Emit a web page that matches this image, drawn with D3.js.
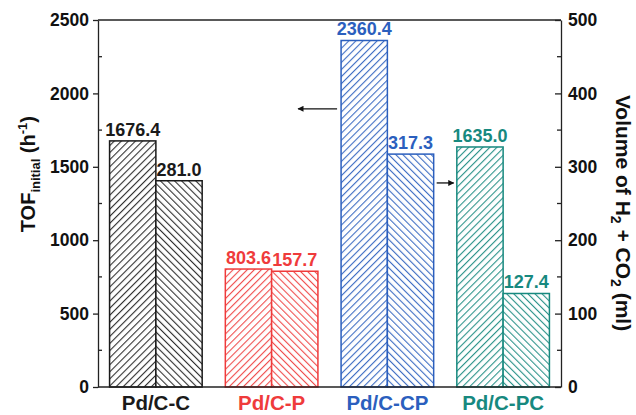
<!DOCTYPE html>
<html>
<head>
<meta charset="utf-8">
<script src="https://cdn.jsdelivr.net/npm/d3@7"></script>
<style>
  html, body { margin: 0; padding: 0; background: #fff; }
  svg { display: block; font-family: "Liberation Sans", Arial, sans-serif; font-weight: bold; }
</style>
</head>
<body>
<svg id="chart" width="636" height="415"></svg>
<script>
// Catalysts and their measured results
const catalysts = ["Pd/C-C", "Pd/C-P", "Pd/C-CP", "Pd/C-PC"];
const tofInitial = [1676.4, 803.6, 2360.4, 1635.0];   // h^-1, left axis
const gasVolume = [281.0, 157.7, 317.3, 127.4];      // ml, right axis
const catalystColors = ["#1a1a1a", "#ef3b3b", "#2b5fbe", "#17897f"];
const tofTicks = [0, 500, 1000, 1500, 2000, 2500];
const volumeTicks = [0, 100, 200, 300, 400, 500];

const svg = d3.select("#chart");
const margin = { left: 98, right: 75, top: 20, bottom: 28 };
const W = 636, H = 415;
const x0 = margin.left, x1 = W - margin.right;
const yTop = margin.top, yBot = H - margin.bottom;

const xGroup = d3.scaleBand().domain(catalysts).range([x0, x1])
  .paddingInner(0.2).paddingOuter(0.1);
const xSub = d3.scaleBand().domain(["tof", "vol"]).range([0, xGroup.bandwidth()]);
const yLeft = d3.scaleLinear().domain([0, 2500]).range([yBot, yTop]);
const yRight = d3.scaleLinear().domain([0, 500]).range([yBot, yTop]);

// Hatch patterns: "/" for TOF bars, "\" for gas volume bars
const defs = svg.append("defs");
catalystColors.forEach((c, i) => {
  [["f", 45], ["b", -45]].forEach(([k, ang]) => {
    const p = defs.append("pattern")
      .attr("id", `hatch-${k}-${i}`)
      .attr("patternUnits", "userSpaceOnUse")
      .attr("width", 5.0).attr("height", 10)
      .attr("patternTransform", `rotate(${ang})`);
    p.append("rect").attr("width", 5.0).attr("height", 10).attr("fill", "#fff");
    p.append("line").attr("x1", 0.6).attr("x2", 0.6).attr("y1", 0).attr("y2", 10)
      .attr("stroke", c).attr("stroke-width", 1.0);
  });
});

// Bars
const rows = catalysts.map((name, i) => ({ name, i, tof: tofInitial[i], vol: gasVolume[i], color: catalystColors[i] }));
const g = svg.append("g");
rows.forEach(d => {
  const gx = xGroup(d.name);
  const bw = xSub.bandwidth();
  // TOF bar (left axis)
  g.append("rect")
    .attr("x", gx + xSub("tof")).attr("width", bw)
    .attr("y", yLeft(d.tof)).attr("height", yBot - yLeft(d.tof))
    .attr("fill", `url(#hatch-f-${d.i})`).attr("stroke", d.color).attr("stroke-width", 1.5);
  // Gas volume bar (right axis)
  g.append("rect")
    .attr("x", gx + xSub("vol")).attr("width", bw)
    .attr("y", yRight(d.vol)).attr("height", yBot - yRight(d.vol))
    .attr("fill", `url(#hatch-b-${d.i})`).attr("stroke", d.color).attr("stroke-width", 1.5);
  // Value labels
  g.append("text")
    .attr("x", gx + xSub("tof") + bw / 2).attr("y", yLeft(d.tof) - 5)
    .attr("text-anchor", "middle").attr("font-size", 18).attr("fill", d.color)
    .text(d.tof.toFixed(1));
  g.append("text")
    .attr("x", gx + xSub("vol") + bw / 2).attr("y", yRight(d.vol) - 5)
    .attr("text-anchor", "middle").attr("font-size", 18).attr("fill", d.color)
    .text(d.vol.toFixed(1));
  // Category label
  svg.append("text")
    .attr("x", gx + xGroup.bandwidth() / 2).attr("y", H - 5)
    .attr("text-anchor", "middle").attr("font-size", 20.5).attr("fill", d.color)
    .text(d.name);
});

// Frame lines (top and bottom)
const axisColor = "#222";
svg.append("line").attr("x1", x0).attr("x2", x1).attr("y1", yTop).attr("y2", yTop)
  .attr("stroke", axisColor).attr("stroke-width", 1.3);
svg.append("line").attr("x1", x0).attr("x2", x1).attr("y1", yBot).attr("y2", yBot)
  .attr("stroke", axisColor).attr("stroke-width", 1.3);

// Left axis
const leftAxis = svg.append("g").attr("transform", `translate(${x0},0)`);
leftAxis.call(d3.axisLeft(yLeft).tickValues(tofTicks).tickFormat(d3.format("d"))
    .tickSize(5).tickSizeOuter(0).tickPadding(4))
  .call(a => a.select(".domain").attr("stroke", axisColor).attr("stroke-width", 1.3))
  .call(a => a.selectAll(".tick line").attr("stroke", axisColor).attr("stroke-width", 1.3))
  .call(a => a.selectAll("text").attr("font-size", 17.5).attr("font-family", "Liberation Sans, Arial, sans-serif")
    .attr("font-weight", "bold").attr("fill", "#111"));
leftAxis.selectAll(".minor").data(d3.range(250, 2500, 500)).enter().append("line")
  .attr("x1", 0).attr("x2", 4).attr("y1", d => yLeft(d)).attr("y2", d => yLeft(d))
  .attr("stroke", axisColor).attr("stroke-width", 1.3);

// Right axis (ticks point inward)
const rightAxis = svg.append("g").attr("transform", `translate(${x1},0)`);
rightAxis.call(d3.axisRight(yRight).tickValues(volumeTicks).tickFormat(d3.format("d"))
    .tickSize(0).tickSizeOuter(0).tickPadding(7))
  .call(a => a.select(".domain").attr("stroke", axisColor).attr("stroke-width", 1.3))
  .call(a => a.selectAll("text").attr("font-size", 17.5).attr("font-family", "Liberation Sans, Arial, sans-serif")
    .attr("font-weight", "bold").attr("fill", "#111"));
rightAxis.selectAll(".tick").append("line")
  .attr("x1", 0).attr("x2", -6).attr("stroke", axisColor).attr("stroke-width", 1.3);
rightAxis.selectAll(".minor").data(d3.range(50, 500, 100)).enter().append("line")
  .attr("x1", 0).attr("x2", -4).attr("y1", d => yRight(d)).attr("y2", d => yRight(d))
  .attr("stroke", axisColor).attr("stroke-width", 1.3);

// Axis titles
const leftTitle = svg.append("text")
  .attr("transform", `translate(35,${yLeft(1450)}) rotate(-90)`)
  .attr("text-anchor", "middle").attr("font-size", 20).attr("fill", "#111");
leftTitle.append("tspan").text("TOF");
leftTitle.append("tspan").attr("font-size", 13).attr("dy", 5).text("initial");
leftTitle.append("tspan").attr("dy", -5).text(" (h");
leftTitle.append("tspan").attr("font-size", 13).attr("dy", -8).text("-1");
leftTitle.append("tspan").attr("dy", 8).text(")");

const rightTitle = svg.append("text")
  .attr("transform", `translate(616,${yRight(237)}) rotate(90)`)
  .attr("text-anchor", "middle").attr("font-size", 21).attr("fill", "#111");
rightTitle.append("tspan").text("Volume of H");
rightTitle.append("tspan").attr("font-size", 14).attr("dy", 5).text("2");
rightTitle.append("tspan").attr("dy", -5).text(" + CO");
rightTitle.append("tspan").attr("font-size", 14).attr("dy", 5).text("2");
rightTitle.append("tspan").attr("dy", -5).text(" (ml)");

// Arrows pointing from the Pd/C-CP bars to their axes
defs.append("marker").attr("id", "arrowhead")
  .attr("viewBox", "0 0 10 10").attr("refX", 9).attr("refY", 5)
  .attr("markerWidth", 7).attr("markerHeight", 6).attr("markerUnits", "userSpaceOnUse")
  .attr("orient", "auto")
  .append("path").attr("d", "M0,0 L10,5 L0,10 Z").attr("fill", "#111");

const cpX = xGroup("Pd/C-CP");
svg.append("line")
  .attr("x1", cpX - 4).attr("x2", cpX - 43)
  .attr("y1", yLeft(1895)).attr("y2", yLeft(1895))
  .attr("stroke", "#111").attr("stroke-width", 1.3).attr("marker-end", "url(#arrowhead)");
const cpRight = cpX + xGroup.bandwidth();
svg.append("line")
  .attr("x1", cpRight + 3).attr("x2", cpRight + 20)
  .attr("y1", yRight(278)).attr("y2", yRight(278))
  .attr("stroke", "#111").attr("stroke-width", 1.3).attr("marker-end", "url(#arrowhead)");
</script>
</body>
</html>
